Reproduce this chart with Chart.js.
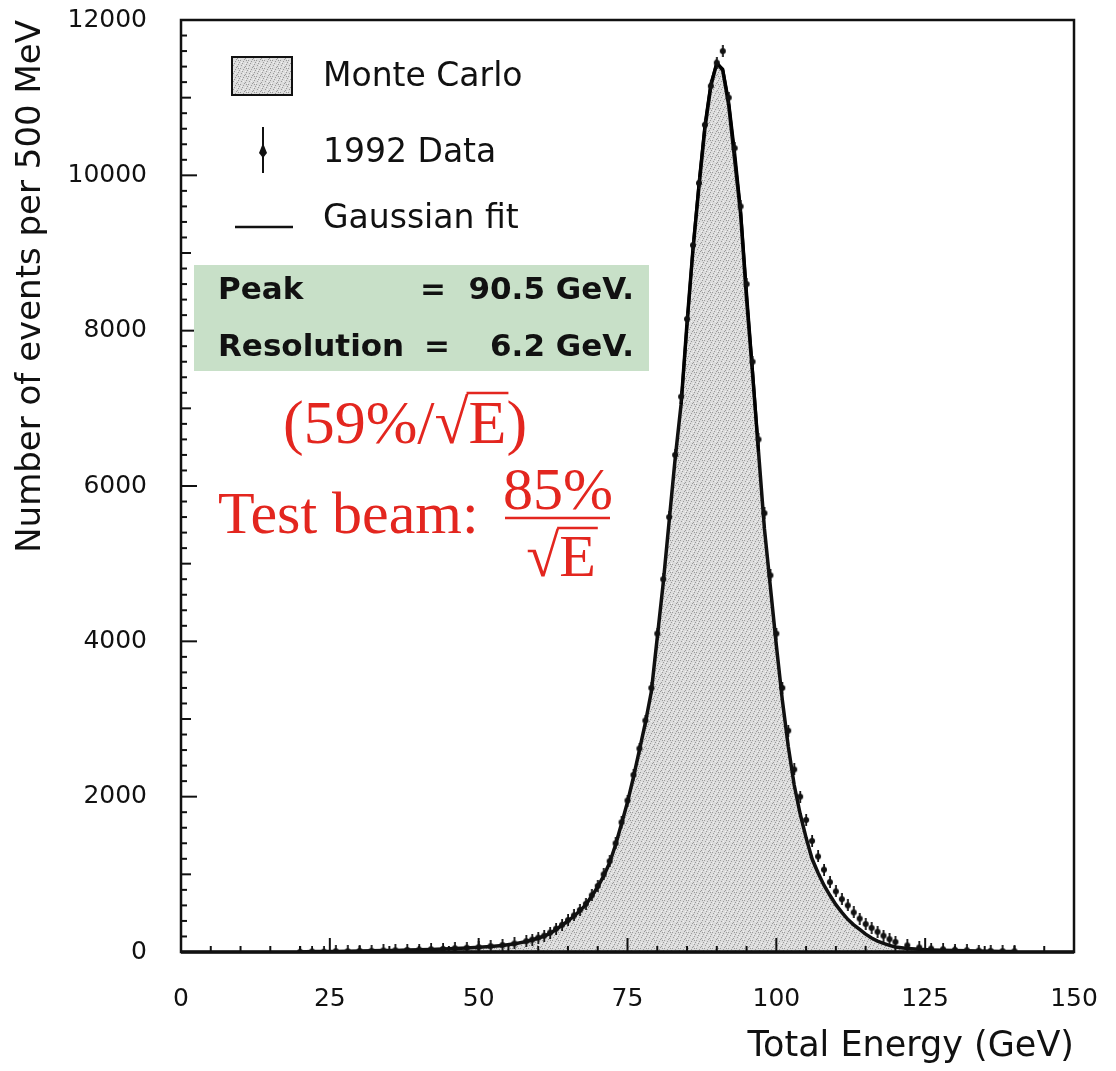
<!DOCTYPE html>
<html>
<head>
<meta charset="utf-8">
<style>
html, body { margin: 0; padding: 0; background: #fff; }
#energy_plot { width: 1116px; height: 1071px; }
</style>
</head>
<body>
<div id="energy_plot">
  <canvas id="myChart" width="1116" height="1071"></canvas>
</div>

<script src="https://cdn.jsdelivr.net/npm/chart.js"></script>

<script>
// energy bin centres (GeV), Monte Carlo and 1992 data counts per 500 MeV
const energy = [20, 22, 24, 26, 28, 30, 32, 34, 36, 38, 40, 42, 44, 46, 48, 50, 52, 54, 56,
  58, 59, 60, 61, 62, 63, 64, 65, 66, 67, 68, 69, 70, 71, 72, 73, 74, 75, 76, 77, 78, 79,
  80, 81, 82, 83, 84, 85, 86, 87, 88, 89, 90, 91, 92, 93, 94, 95, 96, 97, 98, 99,
  100, 101, 102, 103, 104, 105, 106, 107, 108, 109, 110, 111, 112, 113, 114, 115, 116, 117, 118, 119, 120,
  122, 124, 126, 128, 130, 132, 134, 136, 138, 140];
const monteCarlo = [0, 5, 5, 8, 10, 12, 15, 18, 20, 25, 28, 32, 38, 45, 52, 60, 70, 85, 105,
  135, 155, 180, 205, 240, 290, 345, 400, 460, 530, 610, 720, 840, 980, 1150, 1380, 1650, 1930, 2250, 2600, 2950, 3350,
  4050, 4750, 5550, 6350, 7050, 8100, 9050, 9850, 10600, 11150, 11450, 11350, 10900, 10200, 9500, 8400, 7450, 6450, 5450, 4700,
  3950, 3250, 2650, 2150, 1780, 1470, 1200, 1020, 860, 730, 610, 510, 420, 350, 290, 230, 180, 140, 110, 85, 65,
  45, 34, 27, 22, 18, 15, 12, 10, 8, 6];
const data1992 = [2, 6, 4, 10, 9, 14, 16, 20, 22, 27, 30, 35, 40, 48, 55, 62, 75, 90, 110,
  140, 160, 185, 210, 250, 300, 350, 410, 470, 540, 620, 730, 850, 1000, 1170, 1400, 1670, 1950, 2280, 2620, 2980, 3400,
  4100, 4800, 5600, 6400, 7150, 8150, 9100, 9900, 10650, 11150, 11450, 11600, 11000, 10350, 9600, 8600, 7600, 6600, 5650, 4850,
  4100, 3400, 2850, 2350, 2000, 1700, 1430, 1230, 1060, 900, 780, 680, 600, 510, 430, 360, 310, 260, 210, 165, 130,
  85, 58, 44, 35, 28, 22, 18, 15, 12, 10];

// Gaussian fit, core region
const fitEnergy = [84, 85, 86, 87, 88, 89, 90, 91, 92, 93, 94, 95, 96, 97];
const fitValues = [7050, 8080, 9060, 9900, 10650, 11180, 11440, 11370, 10950, 10300, 9560, 8500, 7500, 6450];

const xTicks = [0, 25, 50, 75, 100, 125, 150];
const yTicks = [0, 2000, 4000, 6000, 8000, 10000, 12000];

// grey stipple used for the Monte Carlo histogram
const pc = document.createElement('canvas');
pc.width = 8; pc.height = 8;
const pg = pc.getContext('2d');
pg.fillStyle = '#dcdcdc';
pg.fillRect(0, 0, 8, 8);
pg.fillStyle = '#9a9a9a';
[[1, 1], [5, 2], [3, 5], [7, 6], [0, 4], [6, 0], [2, 7], [4, 3], [6, 4]].forEach(p => pg.fillRect(p[0], p[1], 1, 1));
pg.fillStyle = '#f2f2f2';
[[3, 1], [7, 3], [1, 6], [5, 7]].forEach(p => pg.fillRect(p[0], p[1], 1, 1));
const stipple = pg.createPattern(pc, 'repeat');

// data marker: small error bar with a dot
const mk = document.createElement('canvas');
mk.width = 8; mk.height = 12;
const mg = mk.getContext('2d');
mg.fillStyle = '#111';
mg.fillRect(3.2, 0, 1.8, 12);
mg.beginPath();
mg.arc(4, 6, 3, 0, Math.PI * 2);
mg.fill();

const sans = 'DejaVu Sans';

const overlay = {
  id: 'overlay',
  afterDatasetsDraw(chart) {
    const ctx = chart.ctx;
    const xs = chart.scales.x, ys = chart.scales.y;
    const {left, right, top, bottom} = chart.chartArea;
    ctx.save();
    ctx.strokeStyle = '#111';
    ctx.lineWidth = 2;
    // inward ticks
    for (let v = 0; v <= 150; v += 5) {
      const px = xs.getPixelForValue(v);
      const len = v % 25 === 0 ? 14 : 6;
      ctx.beginPath(); ctx.moveTo(px, bottom); ctx.lineTo(px, bottom - len); ctx.stroke();
    }
    for (let v = 0; v <= 12000; v += 200) {
      const py = ys.getPixelForValue(v);
      const len = v % 2000 === 0 ? 16 : (v % 1000 === 0 ? 10 : 6);
      ctx.beginPath(); ctx.moveTo(left, py); ctx.lineTo(left + len, py); ctx.stroke();
    }
    // frame
    ctx.lineWidth = 2.5;
    ctx.strokeRect(left, top, right - left, bottom - top);
    ctx.lineWidth = 3.5;
    ctx.beginPath(); ctx.moveTo(left, bottom); ctx.lineTo(right, bottom); ctx.stroke();
    ctx.restore();
  },
  afterDraw(chart) {
    const ctx = chart.ctx;
    ctx.save();
    // legend
    ctx.fillStyle = stipple;
    ctx.fillRect(232, 57, 60, 38);
    ctx.strokeStyle = '#111';
    ctx.lineWidth = 2;
    ctx.strokeRect(232, 57, 60, 38);
    ctx.fillStyle = '#111';
    ctx.fillRect(262, 127, 2, 46);
    ctx.beginPath(); ctx.moveTo(263, 143); ctx.lineTo(267, 153); ctx.lineTo(263, 158); ctx.lineTo(259, 153); ctx.closePath(); ctx.fill();
    ctx.lineWidth = 2.5;
    ctx.beginPath(); ctx.moveTo(235, 227); ctx.lineTo(293, 227); ctx.stroke();
    ctx.font = '33px "' + sans + '"';
    ctx.textBaseline = 'middle';
    ctx.textAlign = 'left';
    ctx.fillText('Monte Carlo', 323, 77);
    ctx.fillText('1992 Data', 323, 153);
    ctx.fillText('Gaussian fit', 323, 219);

    // fit result box
    ctx.fillStyle = '#c8e0c8';
    ctx.fillRect(194, 265, 455, 106);
    ctx.fillStyle = '#111';
    ctx.font = 'bold 31px "' + sans + '"';
    ctx.fillText('Peak', 218, 291);
    ctx.fillText('Resolution', 218, 348);
    ctx.textAlign = 'center';
    ctx.fillText('=', 433, 291);
    ctx.fillText('=', 437, 348);
    ctx.textAlign = 'right';
    ctx.fillText('90.5 GeV.', 634, 291);
    ctx.fillText('6.2 GeV.', 634, 348);

    // red annotations
    const red = '#e3261f';
    ctx.fillStyle = red;
    ctx.strokeStyle = red;
    ctx.textBaseline = 'alphabetic';
    ctx.textAlign = 'left';
    ctx.font = '62px "Liberation Serif"';
    const s1 = '(59%/\u221A';
    ctx.fillText(s1 + 'E)', 283, 443);
    let x0 = 283 + ctx.measureText(s1).width;
    let wE = ctx.measureText('E').width;
    ctx.lineWidth = 2.5;
    ctx.beginPath(); ctx.moveTo(x0 - 2, 443 - 50); ctx.lineTo(x0 + wE + 2, 443 - 50); ctx.stroke();

    ctx.font = '60px "Liberation Serif"';
    ctx.fillText('Test beam:', 218, 533);
    ctx.textAlign = 'center';
    ctx.fillText('85%', 558, 509);
    ctx.beginPath(); ctx.moveTo(505, 518); ctx.lineTo(610, 518); ctx.stroke();
    ctx.textAlign = 'left';
    const wR = ctx.measureText('\u221A').width;
    wE = ctx.measureText('E').width;
    x0 = 561 - (wR + wE) / 2;
    ctx.fillText('\u221AE', x0, 576);
    ctx.beginPath(); ctx.moveTo(x0 + wR - 2, 576 - 48); ctx.lineTo(x0 + wR + wE + 2, 576 - 48); ctx.stroke();
    ctx.restore();
  }
};

const ctx = document.getElementById('myChart');

let chart = new Chart(ctx, {
  type: 'line',
  data: {
    datasets: [{
      label: '1992 Data',
      data: energy.map((e, i) => ({x: e, y: data1992[i]})),
      showLine: false,
      pointStyle: mk,
      pointRadius: 4,
      order: 1
    }, {
      label: 'Gaussian fit',
      data: fitEnergy.map((e, i) => ({x: e, y: fitValues[i]})),
      borderColor: '#000',
      borderWidth: 3,
      pointRadius: 0,
      fill: false,
      order: 2
    }, {
      label: 'Monte Carlo',
      data: energy.map((e, i) => ({x: e, y: monteCarlo[i]})),
      borderColor: '#111',
      borderWidth: 3.5,
      backgroundColor: stipple,
      fill: 'origin',
      pointRadius: 0,
      order: 3
    }]
  },
  options: {
    responsive: false,
    animation: false,
    layout: { padding: { top: 20, right: 42, left: 0, bottom: 0 } },
    plugins: { legend: { display: false }, tooltip: { enabled: false } },
    scales: {
      x: {
        type: 'linear',
        min: 0,
        max: 150,
        afterBuildTicks: s => { s.ticks = xTicks.map(v => ({value: v})); },
        afterFit: s => { s.height = 119; s.paddingLeft = 0; s.paddingRight = 0; },
        grid: { display: false, drawTicks: false },
        border: { display: false },
        ticks: {
          padding: 32,
          maxRotation: 0,
          color: '#111',
          font: { family: sans, size: 25 },
          callback: v => String(v)
        },
        title: {
          display: true,
          text: 'Total Energy (GeV)',
          align: 'end',
          color: '#111',
          font: { family: sans, size: 35 },
          padding: { top: 0, bottom: 3 }
        }
      },
      y: {
        min: 0,
        max: 12000,
        afterBuildTicks: s => { s.ticks = yTicks.map(v => ({value: v})); },
        afterFit: s => { s.width = 181; s.paddingTop = 0; s.paddingBottom = 0; },
        grid: { display: false, drawTicks: false },
        border: { display: false },
        ticks: {
          padding: 34,
          color: '#111',
          font: { family: sans, size: 25 },
          callback: v => String(v)
        },
        title: {
          display: true,
          text: 'Number of events per 500 MeV',
          align: 'end',
          color: '#111',
          font: { family: sans, size: 34 },
          padding: { top: 11, bottom: 0 }
        }
      }
    }
  },
  plugins: [overlay]
});
</script>
</body>
</html>
